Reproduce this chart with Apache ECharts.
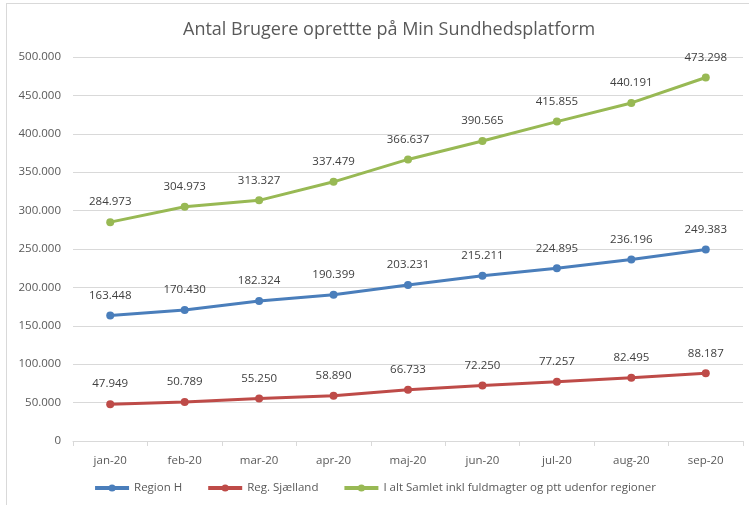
<!DOCTYPE html>
<html>
<head>
    <meta charset="utf-8">
    <title>Antal Brugere</title>
    <script src="https://cdn.jsdelivr.net/npm/echarts@6/dist/echarts.min.js"></script>
    <style>
        html, body { margin: 0; padding: 0; background: #fff; }
        #frame { position: absolute; left: 6px; top: 3px; width: 760px; height: 520px; border: 1px solid #d9d9d9; }
        #chart1 { position: absolute; left: 0; top: 0; width: 749px; height: 505px; }
    </style>
</head>
<body>
<div id="frame"></div>
<div id="chart1"></div>
<script type="text/javascript">
    // data
    var months = ['jan-20', 'feb-20', 'mar-20', 'apr-20', 'maj-20', 'jun-20', 'jul-20', 'aug-20', 'sep-20'];
    var regionH = [163448, 170430, 182324, 190399, 203231, 215211, 224895, 236196, 249383];
    var regSjaelland = [47949, 50789, 55250, 58890, 66733, 72250, 77257, 82495, 88187];
    var iAltSamlet = [284973, 304973, 313327, 337479, 366637, 390565, 415855, 440191, 473298];

    var fontFam = 'Open Sans';

    function fmt(v) {
        return String(v).replace(/\B(?=(\d{3})+(?!\d))/g, '.');
    }

    function mkSeries(name, data, color) {
        return {
            name: name,
            type: 'line',
            data: data,
            symbol: 'circle',
            symbolSize: 8,
            lineStyle: { width: 3, color: color },
            itemStyle: { color: color },
            label: {
                show: true,
                position: 'top',
                distance: 10,
                color: '#404040',
                fontFamily: fontFam,
                fontSize: 11.5,
                formatter: function (p) { return fmt(p.value); }
            }
        };
    }

    var myChart = echarts.init(document.getElementById('chart1'));
    myChart.setOption({
        animation: false,
        title: {
            text: 'Antal Brugere oprettte på Min Sundhedsplatform',
            left: 178,
            top: 16,
            textStyle: { fontFamily: fontFam, fontWeight: 'normal', fontSize: 18, color: '#595959' }
        },
        legend: {
            bottom: 6,
            left: 'center',
            itemWidth: 34,
            itemHeight: 9,
            itemGap: 24,
            lineStyle: { width: 4 },
            textStyle: { fontFamily: fontFam, fontSize: 11.5, color: '#595959' },
            data: ['Region H', 'Reg. Sjælland', 'I alt Samlet inkl fuldmagter og ptt udenfor regioner']
        },
        grid: { left: 73, right: 6, top: 57, bottom: 64 },
        xAxis: {
            type: 'category',
            data: months,
            axisLine: { lineStyle: { color: '#d9d9d9' } },
            axisTick: { show: true, alignWithLabel: false, lineStyle: { color: '#d9d9d9' } },
            axisLabel: { color: '#595959', fontFamily: fontFam, fontSize: 11.5, margin: 14 }
        },
        yAxis: {
            type: 'value',
            min: 0,
            max: 500000,
            interval: 50000,
            axisLine: { show: false },
            axisTick: { show: false },
            splitLine: { lineStyle: { color: '#d9d9d9' } },
            axisLabel: {
                color: '#595959', fontFamily: fontFam, fontSize: 11.5, margin: 12,
                formatter: function (v) { return fmt(v); }
            }
        },
        series: [
            mkSeries('Region H', regionH, '#4a7ebb'),
            mkSeries('Reg. Sjælland', regSjaelland, '#be4b48'),
            mkSeries('I alt Samlet inkl fuldmagter og ptt udenfor regioner', iAltSamlet, '#98b954')
        ]
    });
</script>
</body>
</html>
